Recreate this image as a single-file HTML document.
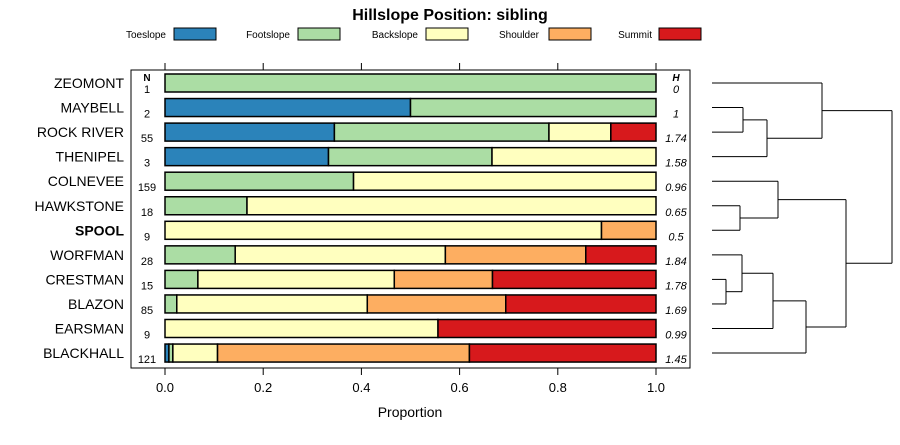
<!DOCTYPE html>
<html><head><meta charset="utf-8"><style>
body{margin:0;background:#fff}
svg{font-family:"Liberation Sans",Arial,sans-serif}
</style></head><body>
<svg id="c" width="900" height="440" viewBox="0 0 900 440" xmlns="http://www.w3.org/2000/svg">
<text x="450" y="20" text-anchor="middle" font-size="16" font-weight="bold">Hillslope Position: sibling</text>
<g id="legend"></g>
<rect x="131" y="70" width="559" height="298" fill="none" stroke="#000" stroke-width="1"/>
<g id="axes"></g>
<g id="bars"></g>
<g id="dendro"></g>
<text x="410" y="417" text-anchor="middle" font-size="14">Proportion</text>
<text x="147" y="81" text-anchor="middle" font-size="10" font-weight="bold">N</text>
<text x="676" y="81" text-anchor="middle" font-size="10" font-weight="bold" font-style="italic">H</text>
</svg>
<script>
const categories=["ZEOMONT","MAYBELL","ROCK RIVER","THENIPEL","COLNEVEE","HAWKSTONE","SPOOL","WORFMAN","CRESTMAN","BLAZON","EARSMAN","BLACKHALL"];
const nValues=["1","2","55","3","159","18","9","28","15","85","9","121"];
const hValues=["0","1","1.74","1.58","0.96","0.65","0.5","1.84","1.78","1.69","0.99","1.45"];
const seriesNames=["Toeslope","Footslope","Backslope","Shoulder","Summit"];
const toeslope=[0,0.5,0.345,0.333,0,0,0,0,0,0,0,0.008];
const footslope=[1,0.5,0.437,0.333,0.384,0.167,0,0.143,0.067,0.024,0,0.008];
const backslope=[0,0,0.126,0.334,0.616,0.833,0.889,0.428,0.4,0.388,0.556,0.091];
const shoulder=[0,0,0,0,0,0,0.111,0.286,0.2,0.282,0,0.513];
const summit=[0,0,0.092,0,0,0,0,0.143,0.333,0.306,0.444,0.38];
const xTicks=[0,0.2,0.4,0.6,0.8,1.0];
const xTickLabels=["0.0","0.2","0.4","0.6","0.8","1.0"];
const colors=["#2b83ba","#abdda4","#ffffbf","#fdae61","#d7191c"];
const NS="http://www.w3.org/2000/svg";
function mk(tag,attrs,parent,txt){const e=document.createElementNS(NS,tag);for(const k in attrs)e.setAttribute(k,attrs[k]);if(txt!==undefined)e.textContent=txt;parent.appendChild(e);return e;}
const xs=v=>165+v*491;
const ys=i=>83+i*24.55;
const svg=document.getElementById('c');
// legend
const leg=document.getElementById('legend');
const legX=[[166,174],[290,298],[418,426],[539,549],[652,659]];
seriesNames.forEach((n,i)=>{
 const t=mk('text',{x:legX[i][0],y:38,'text-anchor':'end','font-size':10},leg,n);
 
 
 const r=mk('rect',{x:legX[i][1],y:28,width:42,height:12,fill:colors[i],stroke:'#000'},leg);
 
 
});
// axes
const ax=document.getElementById('axes');
xTicks.forEach((v,i)=>{
 const l1=mk('line',{x1:xs(v),x2:xs(v),y1:368,y2:375,stroke:'#000'},ax);
 
 
 const l2=mk('line',{x1:xs(v),x2:xs(v),y1:63,y2:70,stroke:'#000'},ax);
 
 
 const t=mk('text',{x:xs(v),y:392,'text-anchor':'middle','font-size':13},ax,xTickLabels[i]);
 
 
});
// bars
const bg=document.getElementById('bars');
const series=[toeslope,footslope,backslope,shoulder,summit];
categories.forEach((c,i)=>{
 const y=ys(i);
 const lab=mk('text',{x:124,y:y+5,'text-anchor':'end','font-size':14,'font-weight':c==='SPOOL'?'bold':'normal'},bg,c);
 
 
 const nt=mk('text',{x:147,y:y+10,'text-anchor':'middle','font-size':11},bg,nValues[i]);
 
 
 const ht=mk('text',{x:676,y:y+10,'text-anchor':'middle','font-size':11,'font-style':'italic'},bg,hValues[i]);
 
 
 let cum=0;
 series.forEach((s,j)=>{
  const v=s[i]; if(v<=0)return;
  const r=mk('rect',{x:xs(cum),y:y-9,width:xs(cum+v)-xs(cum),height:18,fill:colors[j],stroke:'#000','stroke-width':1.5},bg);
  
  
  cum+=v;
 });
});
// dendrogram: [childA y, childB y, height x]
const dg=document.getElementById('dendro');
function seg(x1,y1,x2,y2){const l=mk('line',{x1,y1,x2,y2,stroke:'#000','stroke-width':1},dg);
 
 }
function node(ax_,ay,bx,by,h){seg(ax_,ay,h,ay);seg(bx,by,h,by);seg(h,ay,h,by);return [h,(ay+by)/2];}
const L=712;
const a=node(L,ys(1),L,ys(2),743);
const b=node(a[0],a[1],L,ys(3),767);
const top1=node(L,ys(0),b[0],b[1],822);
const c=node(L,ys(5),L,ys(6),740);
const d=node(L,ys(4),c[0],c[1],778);
const e=node(L,ys(8),L,ys(9),726);
const f=node(L,ys(7),e[0],e[1],742);
const g=node(f[0],f[1],L,ys(10),773);
const h=node(g[0],g[1],L,ys(11),806);
const k=node(d[0],d[1],h[0],h[1],846);
node(top1[0],top1[1],k[0],k[1],892);
</script>
</body></html>
